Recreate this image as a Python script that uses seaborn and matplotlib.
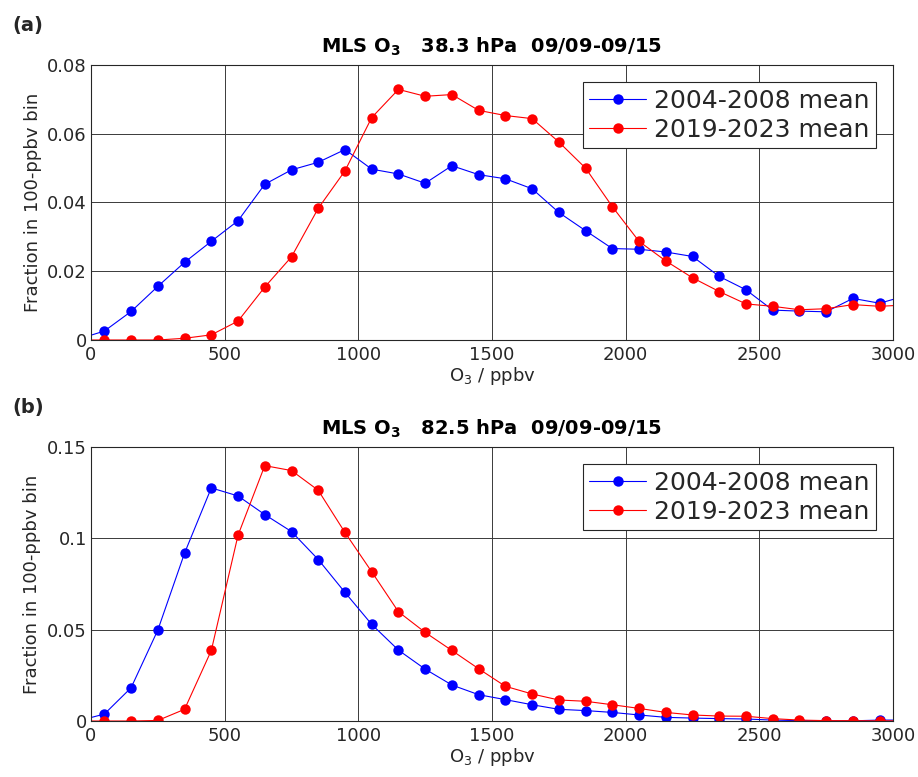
import seaborn as sns
import pandas as pd
import numpy as np
import matplotlib.pyplot as plt

# bin centres (ppbv), incl. one bin each side that is clipped by the axes
o3_bins = [-50, 50, 150, 250, 350, 450, 550, 650, 750, 850, 950, 1050, 1150, 1250, 1350,
           1450, 1550, 1650, 1750, 1850, 1950, 2050, 2150, 2250, 2350, 2450, 2550,
           2650, 2750, 2850, 2950, 3050]

# (a) 38.3 hPa
a_early = [0.0002, 0.0026, 0.0083, 0.0156, 0.0226, 0.0287, 0.0347, 0.0453, 0.0495, 0.0517,
           0.0554, 0.0497, 0.0483, 0.0456, 0.0507, 0.0481, 0.0469, 0.0440, 0.0371, 0.0318,
           0.0266, 0.0264, 0.0256, 0.0243, 0.0185, 0.0146, 0.0087, 0.0084, 0.0082, 0.0121,
           0.0107, 0.0129]
a_late = [0.0, 0.0, 0.0, 0.0, 0.0005, 0.0015, 0.0055, 0.0154, 0.0242, 0.0383,
          0.0492, 0.0647, 0.0729, 0.0709, 0.0714, 0.0668, 0.0653, 0.0644, 0.0576, 0.0500,
          0.0388, 0.0287, 0.0230, 0.0181, 0.0141, 0.0105, 0.0098, 0.0088, 0.0091, 0.0103,
          0.0098, 0.0102]

# (b) 82.5 hPa
b_early = [0.0, 0.0038, 0.0182, 0.0498, 0.0919, 0.1276, 0.1232, 0.1130, 0.1037, 0.0884,
           0.0704, 0.0529, 0.0388, 0.0284, 0.0197, 0.0144, 0.0117, 0.0089, 0.0064, 0.0057,
           0.0047, 0.0033, 0.0020, 0.0016, 0.0013, 0.0011, 0.0005, 0.0002, 0.0001, 0.0001,
           0.0005, 0.0005]
b_late = [0.0, 0.0, 0.0, 0.0003, 0.0064, 0.0386, 0.1017, 0.1398, 0.1371, 0.1263,
          0.1032, 0.0817, 0.0598, 0.0485, 0.0386, 0.0286, 0.0190, 0.0148, 0.0115, 0.0108,
          0.0089, 0.0069, 0.0047, 0.0033, 0.0027, 0.0026, 0.0013, 0.0005, 0.0002, 0.0002,
          0.0001, 0.0001]

labels = ['2004-2008 mean', '2019-2023 mean']
colors = ['#0000ff', '#ff0000']

x_ticks = [0, 500, 1000, 1500, 2000, 2500, 3000]
a_yticks = [0, 0.02, 0.04, 0.06, 0.08]
a_ylabels = ['0', '0.02', '0.04', '0.06', '0.08']
b_yticks = [0, 0.05, 0.1, 0.15]
b_ylabels = ['0', '0.05', '0.1', '0.15']

panels = [
    ('(a)', r'MLS O$_\mathbf{3}$   38.3 hPa  09/09-09/15', a_early, a_late, a_yticks, a_ylabels),
    ('(b)', r'MLS O$_\mathbf{3}$   82.5 hPa  09/09-09/15', b_early, b_late, b_yticks, b_ylabels),
]

sns.set_style('white')
plt.rcParams['font.family'] = ['DejaVu Sans']
plt.rcParams['mathtext.default'] = 'regular'

fig = plt.figure(figsize=(9.18, 7.77), dpi=100)
W, H = 918, 777
boxes = [(91, 65, 893, 340), (91, 447, 893, 721)]
tag_y = [25, 407]

for i, (tag, title, early, late, yt, yl) in enumerate(panels):
    l, t, r, b = boxes[i]
    ax = fig.add_axes([l / W, 1 - b / H, (r - l) / W, (b - t) / H])
    df = pd.DataFrame({'x': o3_bins * 2,
                       'y': early + late,
                       'period': [labels[0]] * len(o3_bins) + [labels[1]] * len(o3_bins)})
    for lab, col in zip(labels, colors):
        sub = df[df['period'] == lab]
        sns.lineplot(data=sub, x='x', y='y', ax=ax, color=col, marker='o', markersize=7.5,
                     markeredgewidth=0, linewidth=0.8, label=lab, sort=False)
    ax.set_xlim(0, 3000)
    ax.set_ylim(yt[0], yt[-1])
    ax.set_xticks(x_ticks)
    ax.set_xticklabels([str(v) for v in x_ticks])
    ax.set_yticks(yt)
    ax.set_yticklabels(yl)
    ax.grid(True, color='#3a3a3a', linewidth=0.7)
    ax.tick_params(direction='in', length=4, labelsize=13, colors='#262626')
    ax.tick_params(axis='x', pad=4)
    ax.tick_params(axis='y', pad=3)
    for s in ax.spines.values():
        s.set_color('#262626')
        s.set_linewidth(0.8)
    ax.set_xlabel(r'O$_3$ / ppbv', fontsize=13, color='#262626', labelpad=1)
    ax.set_ylabel('Fraction in 100-ppbv bin', fontsize=13, color='#262626', labelpad=4)
    ax.set_title(title, fontsize=14, fontweight='bold', color='black', pad=9)
    leg = ax.legend(loc='upper right', fontsize=18, frameon=True, fancybox=False,
                    edgecolor='#262626', framealpha=1, handlelength=2.3,
                    borderpad=0.25, labelspacing=0.2, handletextpad=0.3,
                    borderaxespad=0.7)
    leg.get_frame().set_linewidth(0.8)
    fig.text(12 / W, 1 - tag_y[i] / H, tag, fontsize=14, fontweight='bold', va='center')

plt.savefig('out.png', dpi=100)
